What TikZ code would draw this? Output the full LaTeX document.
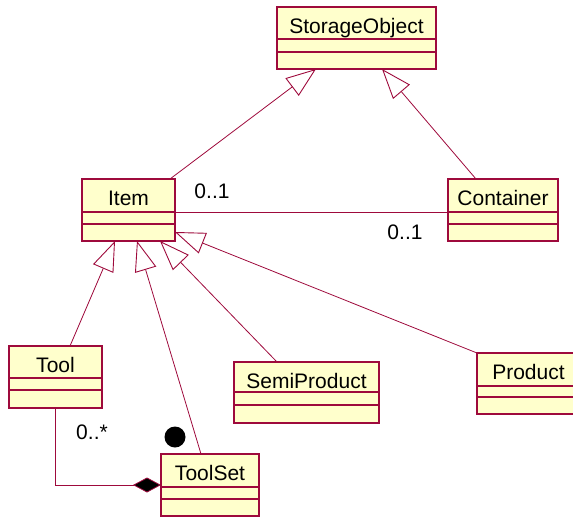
\documentclass[tikz,border=0pt]{standalone}
\usepackage{fontspec}
\setmainfont{Liberation Sans}
\usetikzlibrary{arrows.meta,calc}
\definecolor{umlred}{RGB}{158,10,60}
\definecolor{umlfill}{RGB}{255,255,204}
\tikzset{
  cls/.style={draw=umlred, fill=umlfill, line width=1.4pt, rectangle, inner sep=0pt, outer sep=0pt},
  divline/.style={draw=umlred, line width=1.1pt},
  clstext/.style={inner sep=0pt, font=\fontsize{21}{25}\selectfont},
  conn/.style={draw=umlred, line width=0.8pt},
  gen/.style={conn, -{Triangle[open, length=30pt, width=22pt, line width=0.9pt]}},
  comp/.style={conn, -{Diamond[length=28pt, width=15pt, fill=black, line width=0.8pt]}},
  mult/.style={inner sep=0pt, font=\fontsize{21}{25}\selectfont}
}
\newcommand\umlclass[8]{%
  \node[cls, minimum width={(#4-#2)*1pt}, minimum height={(#5-#3)*1pt}] (#1) at ({(#2+#4)/2},{(#3+#5)/2}) {};
  \draw[divline] (#2,#6) -- (#4,#6);
  \draw[divline] (#2,#7) -- (#4,#7);
  \node[clstext, anchor=base] (#1-t) at ({(#2+#4)/2},{#3+26}) {#8};
}
\begin{document}
\begin{tikzpicture}[x=1pt,y=-1pt]
\useasboundingbox (0,0) rectangle (573,517);
\clip (0,0) rectangle (573,517);
\umlclass{so}{277}{7}{436}{69}{39}{52}{StorageObject}
\umlclass{item}{82}{179}{175}{241}{212}{224}{Item}
\umlclass{container}{448}{179}{558}{241}{212}{224}{Container}
\umlclass{tool}{9}{346}{102}{408}{378}{390}{Tool}
\umlclass{toolset}{161}{454}{259}{516}{487}{499}{ToolSet}
\umlclass{semi}{234}{362}{379}{423}{392}{405}{SemiProduct}
\umlclass{product}{477}{353}{580}{414}{386}{397}{Product}

% generalizations
\draw[gen] ([xshift=-5pt]item.north east) -- ([xshift=-40.5pt]so.south);
\draw[gen] ([xshift=28pt]container.north west) -- ([xshift=25.5pt]so.south);
\draw[gen] ([xshift=14.5pt]tool.north) -- ([xshift=33pt]item.south west);
\draw[gen] ([xshift=-9pt]toolset.north) -- ([xshift=55pt]item.south west);
\draw[gen] ([xshift=43pt]semi.north west) -- ([xshift=78pt]item.south west);
\draw[gen] (product.north west) -- ([yshift=9pt]item.south east);

% association
\draw[conn] ([yshift=-2pt]item.east) -- ([yshift=-2pt]container.west);
\node[mult] (m1) at (212,191) {0..1};
\node[mult] (m2) at (405,232) {0..1};

% composition
\draw[comp] (tool.south) |- (toolset.west);
\node[mult] (m3) at (92,432) {0..*};
\node[circle, fill=black, minimum size=21pt, inner sep=0pt] (dot) at (175,437) {};
\end{tikzpicture}
\end{document}
